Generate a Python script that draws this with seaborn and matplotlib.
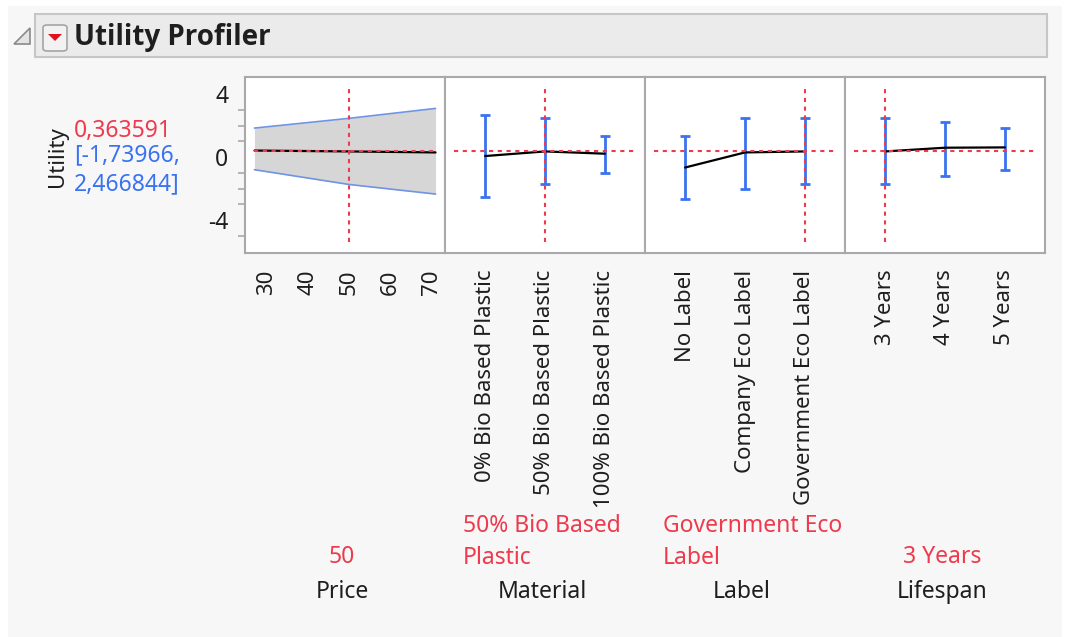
import matplotlib
matplotlib.use("Agg")
import matplotlib.pyplot as plt
import seaborn as sns
import numpy as np
import pandas as pd
from matplotlib.patches import Rectangle, FancyBboxPatch, Polygon

current_utility = 0.363591
ci_text = "[-1,73966,\n2,466844]"

price = [27, 50, 71]
price_util = [0.42, 0.3636, 0.30]
price_lower = [-0.80, -1.74, -2.35]
price_upper = [1.85, 2.47, 3.10]
price_current = 50

material_levels = ["0% Bio Based Plastic", "50% Bio Based Plastic", "100% Bio Based Plastic"]
material_util = [0.07, 0.3636, 0.22]
material_lower = [-2.55, -1.74, -1.04]
material_upper = [2.66, 2.47, 1.37]

label_levels = ["No Label", "Company Eco Label", "Government Eco Label"]
label_util = [-0.66, 0.30, 0.3636]
label_lower = [-2.68, -2.05, -1.74]
label_upper = [1.35, 2.50, 2.47]

life_levels = ["3 Years", "4 Years", "5 Years"]
life_util = [0.3636, 0.60, 0.62]
life_lower = [-1.74, -1.17, -0.79]
life_upper = [2.47, 2.24, 1.86]

factors = ["Price", "Material", "Label", "Lifespan"]
current_text = ["50", "50% Bio Based\nPlastic", "Government Eco\nLabel", "3 Years"]
current_idx = [None, 1, 2, 0]

sns.set_style("white")
plt.rcParams['font.family'] = ['Noto Sans', 'DejaVu Sans']
plt.rcParams['axes.unicode_minus'] = False

W, H = 1069, 637
fig = plt.figure(figsize=(W / 100, H / 100), dpi=100, facecolor="white")

def fx(x):
    return x / W

def fy(y):
    return 1 - y / H

red = "#ee3a4c"
blue = "#3a72f0"
grey = "#a9a9a9"
txt = "#1e1e1e"
fs = 16.5
tfs = 16

# background + header
fig.patches.append(Rectangle((fx(8), fy(637)), fx(1062) - fx(8), fy(6) - fy(637),
                             transform=fig.transFigure, facecolor="#f7f7f7", edgecolor="none", zorder=-10))
fig.patches.append(Rectangle((fx(35), fy(57)), fx(1047) - fx(35), fy(14) - fy(57),
                             transform=fig.transFigure, facecolor="#ebebeb", edgecolor="#c6c6c6",
                             linewidth=1.5, zorder=-5))
fig.patches.append(Polygon([(fx(14), fy(44)), (fx(30), fy(44)), (fx(30), fy(28))], closed=True,
                           transform=fig.transFigure, facecolor="#e4e4e4", edgecolor="#8a8a8a",
                           linewidth=1.2, zorder=-4))
fig.patches.append(FancyBboxPatch((fx(43), fy(51)), fx(67) - fx(43), fy(25) - fy(51),
                                  boxstyle="round,pad=0,rounding_size=0.004",
                                  transform=fig.transFigure, facecolor="#f2f2f2", edgecolor="#a5a5a5",
                                  linewidth=1.2, zorder=-4))
fig.patches.append(Polygon([(fx(48), fy(34)), (fx(62), fy(34)), (fx(55), fy(41))], closed=True,
                           transform=fig.transFigure, facecolor="#e01020", edgecolor="none", zorder=-3))
fig.text(fx(74), fy(37), "Utility Profiler", fontsize=20, fontweight="bold", color=txt,
         family=["Open Sans", "DejaVu Sans"], ha="left", va="center")

# left readout
fig.text(fx(57), fy(157), "Utility", rotation=90, fontsize=tfs, color=txt, ha="center", va="center")
fig.text(fx(74), fy(131), "0,363591", fontsize=fs, color=red, ha="left", va="center")
fig.text(fx(74), fy(170), ci_text, fontsize=fs, color=blue, ha="left", va="center", linespacing=1.25)

# panels
left0, top, pw, ph = 245, 77, 200, 176
axes = []
for i in range(4):
    ax = fig.add_axes([fx(left0 + i * pw), fy(top + ph), pw / W, ph / H])
    ax.set_facecolor("white")
    ax.set_ylim(-6.1, 5.1)
    for s in ax.spines.values():
        s.set_color(grey)
        s.set_linewidth(1.5)
    ax.tick_params(axis="x", length=9, width=1.2, color=grey, labelsize=tfs, labelcolor=txt,
                   rotation=90, pad=3)
    axes.append(ax)

# price panel
ax = axes[0]
ax.set_xlim(24.7, 73.3)
ax.fill_between(price, price_lower, price_upper, color="#d6d6d6", linewidth=0)
sns.lineplot(x=price, y=price_upper, ax=ax, color="#6f94e6", linewidth=1.2)
sns.lineplot(x=price, y=price_lower, ax=ax, color="#6f94e6", linewidth=1.2)
sns.lineplot(x=price, y=price_util, ax=ax, color="black", linewidth=1.6)
ax.set_xticks([30, 40, 50, 60, 70])
ax.set_yticks([-4, 0, 4])
ax.set_yticks(np.arange(-5, 5), minor=True)
ax.tick_params(axis="y", which="major", length=9, width=1.2, color=grey, labelsize=fs,
               labelcolor=txt, pad=3)
ax.tick_params(axis="y", which="minor", length=5, width=1.2, color=grey, left=True)
ax.plot([price_current, price_current], [0.06, 0.94], transform=ax.get_xaxis_transform(),
        color=red, linestyle=(0, (2, 2.2)), linewidth=1.5, zorder=5)

cat_data = [
    (material_levels, material_util, material_lower, material_upper),
    (label_levels, label_util, label_lower, label_upper),
    (life_levels, life_util, life_lower, life_upper),
]
for k, (levels, util, lo, hi) in enumerate(cat_data):
    ax = axes[k + 1]
    pos = np.arange(len(levels))
    ax.set_xlim(-0.67, 2.67)
    util = np.array(util)
    ax.errorbar(pos, util, yerr=[util - np.array(lo), np.array(hi) - util], fmt="none",
                ecolor=blue, elinewidth=2, capsize=3.8, capthick=2, zorder=3)
    sns.lineplot(x=pos, y=util, ax=ax, color="black", linewidth=1.6, zorder=4)
    ax.set_xticks(pos)
    ax.set_xticklabels(levels)
    ax.set_yticks([])
    c = pos[current_idx[k + 1]]
    ax.plot([c, c], [0.06, 0.94], transform=ax.get_xaxis_transform(),
            color=red, linestyle=(0, (2, 2.2)), linewidth=1.5, zorder=5)

for ax in axes:
    ax.plot([0.045, 0.955], [current_utility, current_utility], transform=ax.get_yaxis_transform(),
            color=red, linestyle=(0, (2, 2.2)), linewidth=1.5, zorder=5)
    ax.set_xlabel("")
    ax.set_ylabel("")

# current values and factor names
for i in range(4):
    cx = left0 + i * pw + pw / 2
    if "\n" in current_text[i]:
        fig.text(fx(left0 + i * pw + 18), fy(542), current_text[i], fontsize=fs, color=red,
                 ha="left", va="center", linespacing=1.4)
    else:
        fig.text(fx(cx - 3), fy(557), current_text[i], fontsize=fs, color=red, ha="center", va="center")
    fig.text(fx(cx - 3), fy(592), factors[i], fontsize=fs, color=txt, ha="center", va="center")

fig.savefig("out.png", dpi=100, facecolor="white")
